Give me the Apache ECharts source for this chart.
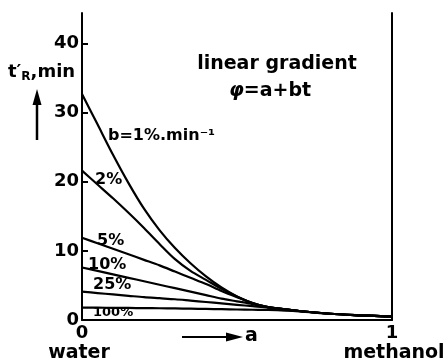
<!DOCTYPE html>
<html><head><meta charset="utf-8">
<script src="https://cdn.jsdelivr.net/npm/echarts@6/dist/echarts.min.js"></script>
<style>html,body{margin:0;padding:0;background:#fff}#c{width:447px;height:361px}</style>
</head><body><div id="c"></div>
<script>
// composition a (0 = water, 1 = methanol)
const xs   = [0, 0.05, 0.1, 0.15, 0.2, 0.25, 0.3, 0.35, 0.4, 0.45, 0.5, 0.55, 0.6, 0.7, 0.8, 0.9, 1];
// t'R (min) for gradient steepness b
const b1   = [32.7, 28.3, 23.9, 19.8, 16.1, 13.0, 10.4, 8.2, 6.3, 4.7, 3.4, 2.45, 1.85, 1.3, 0.9, 0.68, 0.5];
const b2   = [21.6, 19.6, 17.6, 15.5, 13.3, 11.0, 8.8, 7.1, 5.8, 4.5, 3.4, 2.45, 1.85, 1.3, 0.9, 0.68, 0.5];
const b5   = [11.9, 11.1, 10.3, 9.5, 8.7, 7.9, 7.0, 6.1, 5.2, 4.2, 3.3, 2.45, 1.85, 1.3, 0.9, 0.68, 0.5];
const b10  = [7.6, 7.1, 6.6, 6.1, 5.6, 5.1, 4.6, 4.1, 3.6, 3.1, 2.7, 2.3, 1.85, 1.3, 0.9, 0.68, 0.5];
const b25  = [4.1, 3.9, 3.7, 3.5, 3.3, 3.15, 3.0, 2.8, 2.6, 2.4, 2.2, 2.0, 1.8, 1.3, 0.9, 0.68, 0.5];
const b100 = [1.8, 1.78, 1.76, 1.74, 1.72, 1.7, 1.67, 1.64, 1.6, 1.56, 1.52, 1.48, 1.45, 1.25, 0.9, 0.68, 0.5];
const seriesValues = [b1, b2, b5, b10, b25, b100];
const seriesNames = ['b=1%.min⁻¹', '2%', '5%', '10%', '25%', '100%'];
const yTickValues = [10, 20, 30, 40];
const yLabelValues = [0, 10, 20, 30, 40];
const xLabelValues = [0, 1];

const FF = 'DejaVu Sans';
const chart = echarts.init(document.getElementById('c'), null, {renderer: 'canvas'});

const series = seriesValues.map((vals, i) => ({
  name: seriesNames[i],
  type: 'line',
  data: xs.map((x, j) => [x, vals[j]]),
  smooth: 0.3,
  symbol: 'none',
  lineStyle: {color: '#000', width: 2.2},
  silent: true
}));

function txt(text, x, y, size, align, extra) {
  return Object.assign({
    type: 'text', x: x, y: y,
    style: {text: text, fontFamily: FF, fontWeight: 'bold', fontSize: size, fill: '#000',
            align: align || 'left', verticalAlign: 'middle'}
  }, extra || {});
}

chart.setOption({
  animation: false,
  backgroundColor: '#fff',
  grid: {left: 82, right: 55, top: 13, bottom: 41},
  xAxis: {
    type: 'value', min: 0, max: 1,
    axisLine: {show: true, lineStyle: {color: '#000', width: 2}},
    axisTick: {show: false},
    splitLine: {show: false},
    axisLabel: {customValues: xLabelValues, color: '#000', fontFamily: FF, fontWeight: 'bold', fontSize: 18, margin: 4}
  },
  yAxis: [{
    type: 'value', min: 0, max: 44.4,
    axisLine: {show: true, lineStyle: {color: '#000', width: 2}},
    axisTick: {show: true, inside: true, length: 6, customValues: yTickValues, lineStyle: {color: '#000', width: 2}},
    splitLine: {show: false},
    axisLabel: {customValues: yLabelValues, color: '#000', fontFamily: FF, fontWeight: 'bold', fontSize: 18, margin: 3}
  }, {
    type: 'value', min: 0, max: 44.4, position: 'right',
    axisLine: {show: true, lineStyle: {color: '#000', width: 2}},
    axisTick: {show: false}, axisLabel: {show: false}, splitLine: {show: false}
  }],
  series: series,
  graphic: [
    // y axis title
    {type: 'text', x: 8, y: 72, style: {
      text: '{a|t′}{s|R}{a|,min}', fill: '#000', verticalAlign: 'middle',
      rich: {
        a: {fontFamily: FF, fontWeight: 'bold', fontSize: 18, fill: '#000'},
        s: {fontFamily: FF, fontWeight: 'bold', fontSize: 12, fill: '#000', padding: [9, 0, 0, 0]}
      }}},
    // up arrow
    {type: 'line', shape: {x1: 37, y1: 140, x2: 37, y2: 100}, style: {stroke: '#000', lineWidth: 2.5}},
    {type: 'polygon', shape: {points: [[37, 89], [32.5, 105], [41.5, 105]]}, style: {fill: '#000'}},
    // x direction arrow
    {type: 'line', shape: {x1: 182, y1: 337, x2: 230, y2: 337}, style: {stroke: '#000', lineWidth: 2}},
    {type: 'polygon', shape: {points: [[243, 337], [226, 332.5], [226, 341.5]]}, style: {fill: '#000'}},
    txt('a', 245, 336, 19),
    txt('water', 79, 353, 19, 'center'),
    txt('methanol', 394, 353, 19, 'center'),
    txt('linear gradient', 277, 64, 19, 'center'),
    {type: 'text', x: 270, y: 91, style: {
      text: '{p|φ}{a|=a+bt}', fill: '#000', align: 'center', verticalAlign: 'middle',
      rich: {
        p: {fontFamily: FF, fontWeight: 'bold', fontStyle: 'italic', fontSize: 19, fill: '#000'},
        a: {fontFamily: FF, fontWeight: 'bold', fontSize: 19, fill: '#000'}
      }}},
    // curve labels
    txt(seriesNames[0], 108, 136, 16),
    txt(seriesNames[1], 95, 180, 16),
    txt(seriesNames[2], 97, 241, 16),
    txt(seriesNames[3], 88, 265, 16),
    txt(seriesNames[4], 93, 285, 16),
    txt(seriesNames[5], 93, 313, 13)
  ]
});
</script></body></html>
